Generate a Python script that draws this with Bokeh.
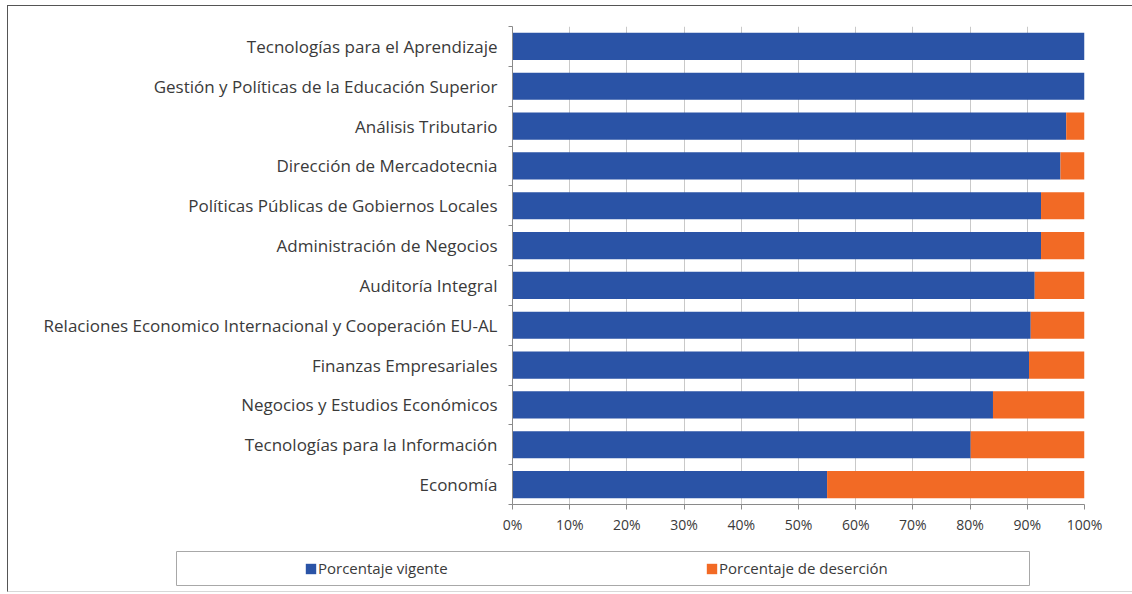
from bokeh.plotting import figure
from bokeh.models import (Range1d, FixedTicker, PrintfTickFormatter, Legend, LegendItem,
                          ColumnDataSource)
from bokeh.layouts import column
from bokeh.embed import file_html
from bokeh.resources import INLINE

categories = [
    "Tecnologías para el Aprendizaje",
    "Gestión y Políticas de la Educación Superior",
    "Análisis Tributario",
    "Dirección de Mercadotecnia",
    "Políticas Públicas de Gobiernos Locales",
    "Administración de Negocios",
    "Auditoría Integral",
    "Relaciones Economico Internacional y Cooperación EU-AL",
    "Finanzas Empresariales",
    "Negocios y Estudios Económicos",
    "Tecnologías para la Información",
    "Economía",
]
vigente = [100.0, 100.0, 96.8, 95.8, 92.4, 92.4, 91.3, 90.6, 90.3, 84.0, 80.1, 55.0]
desercion = [0.0, 0.0, 3.2, 4.2, 7.6, 7.6, 8.7, 9.4, 9.7, 16.0, 19.9, 45.0]
x_ticks = [0, 10, 20, 30, 40, 50, 60, 70, 80, 90, 100]
series_names = ["Porcentaje vigente", "Porcentaje de deserción"]

BLUE = "#2A53A6"
ORANGE = "#F26A25"
FONT = "Open Sans"
TEXT = "#3a3a3a"

W = 1124

n = len(categories)
ys = [n - i - 0.5 for i in range(n)]
source = ColumnDataSource(dict(
    y=ys,
    v=vigente,
    d_left=vigente,
    d_right=[a + b for a, b in zip(vigente, desercion)],
))

p = figure(width=W, height=534, output_backend="svg", toolbar_location=None,
           x_range=Range1d(0, 100), y_range=Range1d(0, n),
           min_border_left=504, min_border_right=48, min_border_top=20,
           min_border_bottom=36, frame_align=False)
p.outline_line_color = None
p.background_fill_color = "white"
p.border_fill_color = "white"

p.hbar(y="y", left=0, right="v", height=0.68, source=source,
       fill_color=BLUE, line_color=None)
p.hbar(y="y", left="d_left", right="d_right", height=0.68, source=source,
       fill_color=ORANGE, line_color=None)

# x axis
xa = p.xaxis[0]
xa.ticker = FixedTicker(ticks=x_ticks)
xa.formatter = PrintfTickFormatter(format="%d%%")
xa.axis_line_color = "#8a8a8a"
xa.major_tick_line_color = "#8a8a8a"
xa.major_tick_out = 5
xa.major_tick_in = 0
xa.minor_tick_line_color = None
xa.major_label_text_font = FONT
xa.major_label_text_font_size = "14px"
xa.major_label_text_color = TEXT
xa.major_label_standoff = 5

# y axis
ya = p.yaxis[0]
ya.ticker = FixedTicker(ticks=ys, minor_ticks=list(range(n + 1)))
ya.major_label_overrides = {y: c for y, c in zip(ys, categories)}
ya.axis_line_color = "#8a8a8a"
ya.major_tick_line_color = None
ya.major_tick_out = 0
ya.major_tick_in = 0
ya.minor_tick_line_color = "#8a8a8a"
ya.minor_tick_out = 4
ya.minor_tick_in = 0
ya.major_label_text_font = FONT
ya.major_label_text_font_size = "17px"
ya.major_label_text_color = TEXT
ya.major_label_standoff = 11

p.xgrid.ticker = FixedTicker(ticks=x_ticks)
p.xgrid.grid_line_color = "#c9c9c9"
p.ygrid.grid_line_color = None

# legend panel: its frame outline is the legend box
lf = figure(width=W, height=51, output_backend="svg", toolbar_location=None,
            x_range=Range1d(0, 1), y_range=Range1d(0, 1),
            x_axis_location=None, y_axis_location=None,
            min_border_left=168, min_border_right=103, min_border_top=11,
            min_border_bottom=6, frame_align=False)
lf.grid.grid_line_color = None
lf.outline_line_color = "#a8a8a8"
lf.border_fill_color = "white"
# legend proxies share the chart's data; hidden, only their swatches are shown
g1 = lf.hbar(y="y", left=0, right="v", height=0.68, source=source,
             fill_color=BLUE, line_color=None, visible=False)
g2 = lf.hbar(y="y", left="d_left", right="d_right", height=0.68, source=source,
             fill_color=ORANGE, line_color=None, visible=False)
legend = Legend(items=[LegendItem(label=series_names[0], renderers=[g1]),
                       LegendItem(label=series_names[1], renderers=[g2])],
                orientation="horizontal", location=(128, 7),
                padding=0, margin=0, spacing=187,
                glyph_width=13, glyph_height=13, label_standoff=1,
                label_width=200, label_height=20,
                label_text_font=FONT, label_text_font_size="15px",
                label_text_color=TEXT,
                inactive_fill_alpha=0,
                border_line_color=None, background_fill_alpha=0)
lf.add_layout(legend)

layout = column(p, lf, spacing=0,
                styles={"margin-left": "7px", "margin-top": "5px",
                        "border-left": "1px solid #555",
                        "border-top": "1px solid #555",
                        "border-bottom": "1px solid #d8d8d8"})

open("out.html", "w").write(file_html(layout, INLINE))
